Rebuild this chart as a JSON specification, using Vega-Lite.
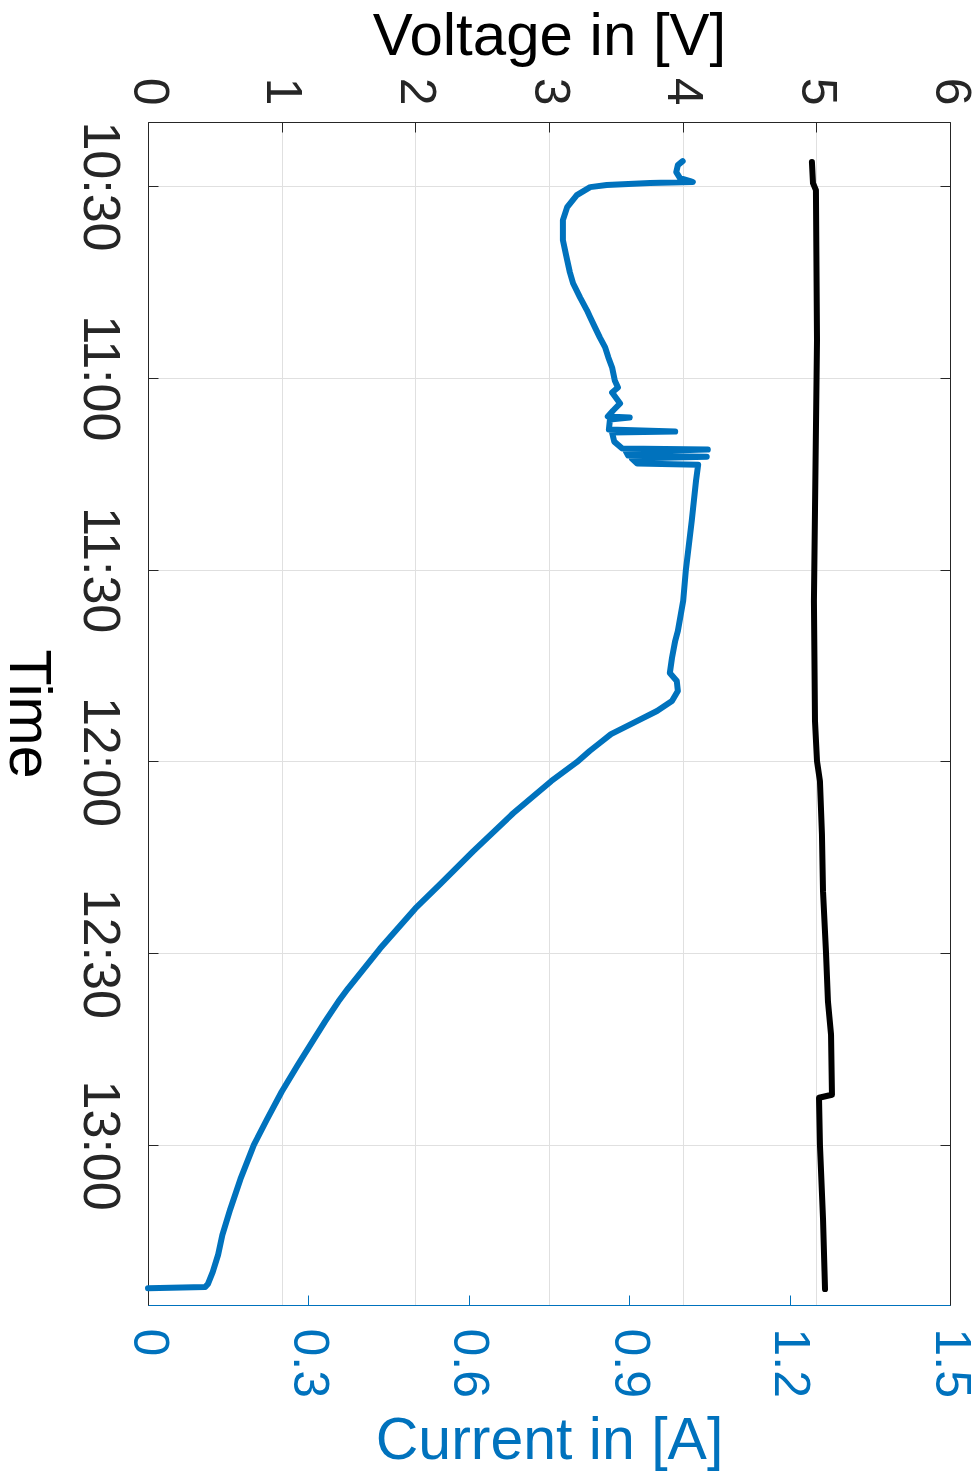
{
  "$schema": "https://vega.github.io/schema/vega-lite/v6.json",
  "width": 802,
  "height": 1183,
  "autosize": {"type": "none"},
  "padding": {"left": 148, "top": 122, "right": 28, "bottom": 171},
  "background": "white",
  "config": {
    "view": {"stroke": "#262626", "strokeWidth": 1},
    "font": "Liberation Sans",
    "axis": {"labelFont": "Liberation Sans", "titleFont": "Liberation Sans", "titleFontWeight": "normal", "labelColor": "#262626", "titleColor": "#000000", "domainColor": "#262626", "tickColor": "#262626", "gridColor": "#e0e0e0", "gridOpacity": 1, "labelFlush": false, "labelOverlap": false}
  },
  "datasets": {
    "currentData": [
      {"time": "10:26:07", "current": 1.0},
      {"time": "10:26:44", "current": 0.991},
      {"time": "10:27:50", "current": 0.988},
      {"time": "10:28:46", "current": 0.995},
      {"time": "10:29:15", "current": 1.014},
      {"time": "10:29:24", "current": 1.019},
      {"time": "10:29:33", "current": 0.939},
      {"time": "10:29:52", "current": 0.858},
      {"time": "10:30:11", "current": 0.827},
      {"time": "10:31:26", "current": 0.802},
      {"time": "10:33:19", "current": 0.784},
      {"time": "10:35:21", "current": 0.776},
      {"time": "10:38:29", "current": 0.776},
      {"time": "10:41:37", "current": 0.784},
      {"time": "10:43:30", "current": 0.789},
      {"time": "10:45:13", "current": 0.795},
      {"time": "10:47:25", "current": 0.808},
      {"time": "10:49:27", "current": 0.821},
      {"time": "10:50:33", "current": 0.827},
      {"time": "10:52:07", "current": 0.836},
      {"time": "10:53:41", "current": 0.845},
      {"time": "10:55:15", "current": 0.855},
      {"time": "10:56:49", "current": 0.861},
      {"time": "10:58:23", "current": 0.868},
      {"time": "11:00:25", "current": 0.873},
      {"time": "11:01:31", "current": 0.879},
      {"time": "11:02:18", "current": 0.868},
      {"time": "11:04:01", "current": 0.883},
      {"time": "11:05:07", "current": 0.870},
      {"time": "11:06:04", "current": 0.860},
      {"time": "11:06:13", "current": 0.901},
      {"time": "11:06:32", "current": 0.864},
      {"time": "11:08:06", "current": 0.862},
      {"time": "11:08:25", "current": 0.986},
      {"time": "11:08:34", "current": 0.868},
      {"time": "11:09:59", "current": 0.872},
      {"time": "11:11:04", "current": 0.887},
      {"time": "11:11:14", "current": 1.047},
      {"time": "11:11:33", "current": 0.894},
      {"time": "11:12:10", "current": 0.898},
      {"time": "11:12:20", "current": 1.045},
      {"time": "11:12:38", "current": 0.905},
      {"time": "11:13:25", "current": 0.915},
      {"time": "11:13:35", "current": 1.029},
      {"time": "11:16:05", "current": 1.025},
      {"time": "11:22:21", "current": 1.017},
      {"time": "11:30:02", "current": 1.006},
      {"time": "11:34:53", "current": 1.001},
      {"time": "11:39:35", "current": 0.991},
      {"time": "11:41:09", "current": 0.986},
      {"time": "11:43:49", "current": 0.980},
      {"time": "11:46:10", "current": 0.976},
      {"time": "11:47:25", "current": 0.989},
      {"time": "11:48:59", "current": 0.991},
      {"time": "11:50:33", "current": 0.980},
      {"time": "11:52:07", "current": 0.952},
      {"time": "11:54:00", "current": 0.907},
      {"time": "11:55:43", "current": 0.866},
      {"time": "11:57:07", "current": 0.845},
      {"time": "11:58:22", "current": 0.826},
      {"time": "12:00:07", "current": 0.802},
      {"time": "12:03:05", "current": 0.754},
      {"time": "12:08:06", "current": 0.683},
      {"time": "12:14:03", "current": 0.608},
      {"time": "12:19:13", "current": 0.546},
      {"time": "12:22:59", "current": 0.500},
      {"time": "12:29:15", "current": 0.434},
      {"time": "12:35:31", "current": 0.374},
      {"time": "12:37:33", "current": 0.356},
      {"time": "12:40:41", "current": 0.331},
      {"time": "12:43:21", "current": 0.311},
      {"time": "12:47:30", "current": 0.280},
      {"time": "12:51:39", "current": 0.250},
      {"time": "12:55:53", "current": 0.223},
      {"time": "12:59:58", "current": 0.198},
      {"time": "13:05:17", "current": 0.173},
      {"time": "13:09:59", "current": 0.154},
      {"time": "13:14:04", "current": 0.139},
      {"time": "13:17:11", "current": 0.131},
      {"time": "13:19:51", "current": 0.121},
      {"time": "13:21:44", "current": 0.112},
      {"time": "13:22:12", "current": 0.107},
      {"time": "13:22:22", "current": 0.0}
    ],
    "voltageData": [
      {"time": "10:26:16", "voltage": 4.967},
      {"time": "10:29:33", "voltage": 4.975},
      {"time": "10:30:39", "voltage": 4.997},
      {"time": "10:54:09", "voltage": 5.005},
      {"time": "11:34:53", "voltage": 4.982},
      {"time": "11:53:41", "voltage": 4.990},
      {"time": "11:59:57", "voltage": 5.005},
      {"time": "12:03:05", "voltage": 5.027},
      {"time": "12:11:23", "voltage": 5.042},
      {"time": "12:20:19", "voltage": 5.050},
      {"time": "12:29:43", "voltage": 5.072},
      {"time": "12:37:33", "voltage": 5.087},
      {"time": "12:42:43", "voltage": 5.110},
      {"time": "12:52:07", "voltage": 5.117},
      {"time": "12:52:35", "voltage": 5.020},
      {"time": "12:59:58", "voltage": 5.027},
      {"time": "13:11:33", "voltage": 5.050},
      {"time": "13:22:31", "voltage": 5.065}
    ]
  },
  "layer": [
    {
      "data": {"name": "voltageData", "format": {"parse": {"time": "date:'%H:%M:%S'"}}},
      "mark": {"type": "line", "color": "#000000", "strokeWidth": 6, "strokeJoin": "round", "strokeCap": "round"},
      "encoding": {
        "x": {
          "field": "voltage", "type": "quantitative",
          "scale": {"domain": [0, 6], "nice": false, "zero": false},
          "axis": {"orient": "top", "values": [0, 1, 2, 3, 4, 5, 6], "grid": true, "labelAngle": 90, "labelAlign": "right", "labelBaseline": "middle", "labelFontSize": 50, "labelPadding": 27, "tickSize": -10, "title": "Voltage in [V]", "titleFontSize": 60, "titlePadding": 10}
        },
        "y": {
          "field": "time", "type": "temporal",
          "scale": {"domain": [{"year": 1900, "month": 1, "date": 1, "hours": 10, "minutes": 20}, {"year": 1900, "month": 1, "date": 1, "hours": 13, "minutes": 25}], "reverse": true, "nice": false},
          "axis": {"orient": "right", "labels": false, "title": null, "grid": false, "tickSize": -10, "values": [{"year": 1900, "month": 1, "date": 1, "hours": 10, "minutes": 30}, {"year": 1900, "month": 1, "date": 1, "hours": 11, "minutes": 0}, {"year": 1900, "month": 1, "date": 1, "hours": 11, "minutes": 30}, {"year": 1900, "month": 1, "date": 1, "hours": 12, "minutes": 0}, {"year": 1900, "month": 1, "date": 1, "hours": 12, "minutes": 30}, {"year": 1900, "month": 1, "date": 1, "hours": 13, "minutes": 0}]}
        },
        "order": {"field": "time", "type": "temporal"}
      }
    },
    {
      "data": {"name": "currentData", "format": {"parse": {"time": "date:'%H:%M:%S'"}}},
      "mark": {"type": "line", "color": "#0072BD", "strokeWidth": 6, "strokeJoin": "round", "strokeCap": "round"},
      "encoding": {
        "x": {
          "field": "current", "type": "quantitative",
          "scale": {"domain": [0, 1.5], "nice": false, "zero": false},
          "axis": {"orient": "bottom", "values": [0, 0.3, 0.6, 0.9, 1.2, 1.5], "format": "~g", "grid": false, "labelAngle": 90, "labelAlign": "left", "labelBaseline": "middle", "labelFontSize": 50, "labelPadding": 33, "labelColor": "#0072BD", "tickColor": "#0072BD", "domainColor": "#0072BD", "tickSize": -10, "title": "Current in [A]", "titleColor": "#0072BD", "titleFontSize": 59, "titlePadding": 14}
        },
        "y": {
          "field": "time", "type": "temporal",
          "scale": {"domain": [{"year": 1900, "month": 1, "date": 1, "hours": 10, "minutes": 20}, {"year": 1900, "month": 1, "date": 1, "hours": 13, "minutes": 25}], "reverse": true, "nice": false},
          "axis": {"orient": "left", "format": "%H:%M", "labelAngle": 90, "labelAlign": "center", "labelBaseline": "top", "labelFontSize": 52, "labelPadding": 34, "tickSize": -10, "grid": true, "title": "Time", "titleAngle": 90, "titleBaseline": "top", "titleFontSize": 59, "titlePadding": 17, "values": [{"year": 1900, "month": 1, "date": 1, "hours": 10, "minutes": 30}, {"year": 1900, "month": 1, "date": 1, "hours": 11, "minutes": 0}, {"year": 1900, "month": 1, "date": 1, "hours": 11, "minutes": 30}, {"year": 1900, "month": 1, "date": 1, "hours": 12, "minutes": 0}, {"year": 1900, "month": 1, "date": 1, "hours": 12, "minutes": 30}, {"year": 1900, "month": 1, "date": 1, "hours": 13, "minutes": 0}]}
        },
        "order": {"field": "time", "type": "temporal"}
      }
    }
  ],
  "resolve": {"scale": {"x": "independent"}, "axis": {"x": "independent", "y": "independent"}}
}
